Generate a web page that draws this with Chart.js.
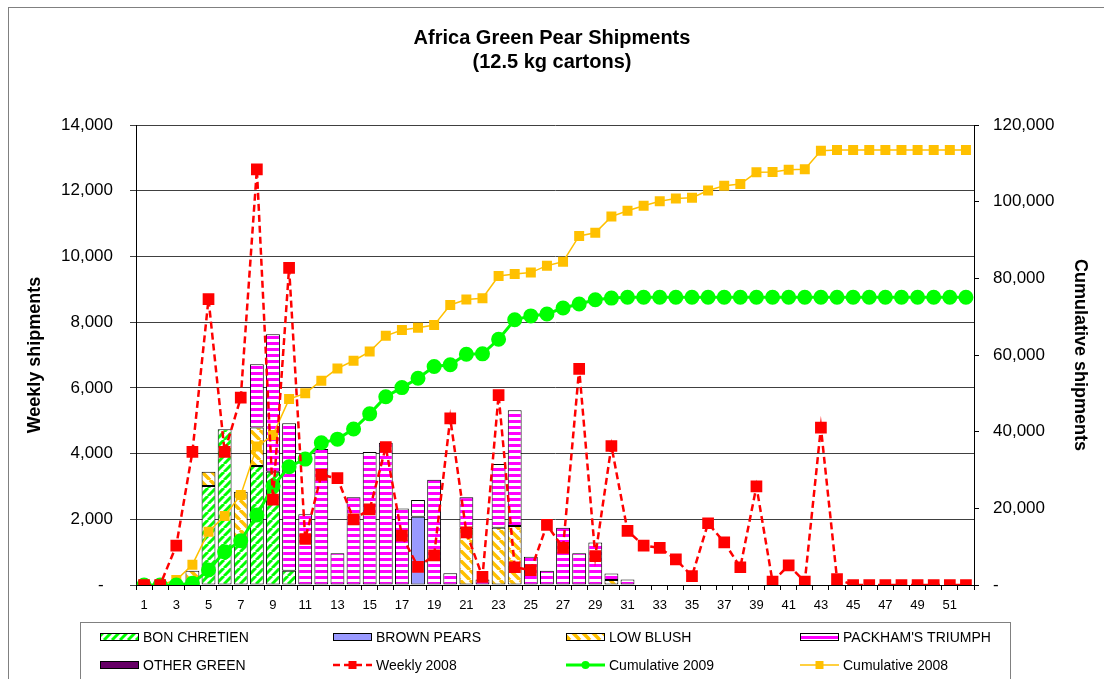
<!DOCTYPE html>
<html>
<head>
<meta charset="utf-8">
<title>Africa Green Pear Shipments</title>
<script src="https://cdn.jsdelivr.net/npm/chart.js@4/dist/chart.umd.min.js"></script>
<style>
  html, body { margin: 0; padding: 0; background: #fff; }
  canvas { display: block; }
</style>
</head>
<body>
<canvas id="pears" width="1104" height="679"></canvas>
<script>
// ----------------------------------------------------
// Data (cartons of 12.5 kg, by week)
// ----------------------------------------------------
const weeks = [1, 2, 3, 4, 5, 6, 7, 8, 9, 10, 11, 12, 13, 14, 15, 16, 17, 18, 19, 20,
  21, 22, 23, 24, 25, 26, 27, 28, 29, 30, 31, 32, 33, 34, 35, 36, 37, 38, 39, 40,
  41, 42, 43, 44, 45, 46, 47, 48, 49, 50, 51, 52];

const bonChretien = [0, 0, 0, 0, 3010, 4740, 1270, 3620, 3450, 435, 0, 0, 0, 0, 0, 0, 0, 0, 0, 0,
  0, 0, 0, 0, 0, 0, 0, 0, 0, 0, 0, 0, 0, 0, 0, 0, 0, 0, 0, 0,
  0, 0, 0, 0, 0, 0, 0, 0, 0, 0, 0, 0];
const brownPears = [0, 0, 0, 0, 0, 0, 0, 0, 0, 0, 0, 0, 0, 0, 0, 0, 0, 2080, 0, 0,
  0, 0, 0, 0, 0, 0, 0, 0, 0, 0, 0, 0, 0, 0, 0, 0, 0, 0, 0, 0,
  0, 0, 0, 0, 0, 0, 0, 0, 0, 0, 0, 0];
const lowBlush = [0, 0, 0, 435, 440, 0, 1570, 1170, 0, 0, 0, 0, 0, 0, 0, 0, 0, 0, 0, 0,
  1745, 0, 1745, 1795, 0, 0, 0, 0, 0, 150, 0, 0, 0, 0, 0, 0, 0, 0, 0, 0,
  0, 0, 0, 0, 0, 0, 0, 0, 0, 0, 0, 0];
const packham = [0, 0, 0, 0, 0, 0, 0, 1930, 4180, 4485, 2150, 4140, 965, 2670, 4050, 4330, 2330, 510, 3200, 355,
  925, 170, 1935, 3525, 860, 435, 1740, 965, 1290, 200, 170, 0, 0, 0, 0, 0, 0, 0, 0, 0,
  0, 0, 0, 0, 0, 0, 0, 0, 0, 0, 0, 0];
const otherGreen = [0, 0, 0, 0, 0, 0, 0, 0, 0, 0, 0, 0, 0, 0, 0, 0, 0, 0, 0, 0,
  0, 0, 0, 0, 0, 0, 0, 0, 0, 0, 0, 0, 0, 0, 0, 0, 0, 0, 0, 0,
  0, 0, 0, 0, 0, 0, 0, 0, 0, 0, 0, 0];

const weekly2008 = [0, 0, 1200, 4050, 8700, 4050, 5700, 12650, 2600, 9650, 1400, 3350, 3250, 2000, 2300, 4200, 1500, 550, 900, 5070,
  1600, 250, 5780, 540, 450, 1830, 1130, 6580, 880, 4230, 1650, 1200, 1130, 780, 270, 1880, 1300, 540, 3000, 100,
  600, 100, 4790, 180, 0, 0, 0, 0, 0, 0, 0, 0];
const cumul2009 = [0, 0, 0, 450, 3900, 8650, 11550, 18250, 25800, 30850, 32850, 37100, 38050, 40700, 44650, 49100, 51500, 53950, 57000, 57450,
  60200, 60300, 64100, 69200, 70200, 70700, 72250, 73300, 74400, 74850, 75050, 75050, 75050, 75050, 75050, 75050, 75050, 75050, 75050, 75050,
  75050, 75050, 75050, 75050, 75050, 75050, 75050, 75050, 75050, 75050, 75050, 75050];
const cumul2008 = [0, 0, 1300, 5300, 13900, 18000, 23500, 36100, 39100, 48500, 50000, 53300, 56500, 58500, 60900, 65000, 66500, 67100, 67800, 73050,
  74500, 74800, 80600, 81100, 81500, 83300, 84350, 91050, 91900, 96100, 97650, 98950, 100100, 100800, 101050, 102900, 104150, 104600, 107650, 107750,
  108350, 108450, 113300, 113450, 113450, 113450, 113450, 113450, 113450, 113450, 113450, 113450];

const weeklyTicks = [0, 2000, 4000, 6000, 8000, 10000, 12000, 14000];
const cumulTicks = [0, 20000, 40000, 60000, 80000, 100000, 120000];

// ----------------------------------------------------
// Fill patterns (Excel style hatching)
// ----------------------------------------------------
function makePattern(w, h, draw) {
  const c = document.createElement("canvas");
  c.width = w;
  c.height = h;
  const g = c.getContext("2d");
  g.fillStyle = "#fff";
  g.fillRect(0, 0, w, h);
  draw(g, w, h);
  return g.createPattern(c, "repeat");
}

const greenHatch = makePattern(8, 8, (g, s) => {
  g.strokeStyle = "#00FF00";
  g.lineWidth = 3;
  [-s, 0, s].forEach(k => {
    g.beginPath(); g.moveTo(k, s); g.lineTo(k + s, 0); g.stroke();
  });
});

const yellowHatch = makePattern(10, 10, (g, s) => {
  g.strokeStyle = "#FFC000";
  g.lineWidth = 3.5;
  [-s, 0, s].forEach(k => {
    g.beginPath(); g.moveTo(k, 0); g.lineTo(k + s, s); g.stroke();
  });
});

const pinkStripes = makePattern(4, 6, g => {
  g.fillStyle = "#FF00FF";
  g.fillRect(0, 0, 4, 3);
});

const fmt = v => (v === 0 ? "-  " : v.toLocaleString("en-US"));

// ----------------------------------------------------
// Plugins : frame + legend box under the chart
// ----------------------------------------------------
const framePlugin = {
  id: "frame",
  beforeDraw(chart) {
    const ctx = chart.ctx;
    ctx.save();
    ctx.fillStyle = "#fff";
    ctx.fillRect(0, 0, chart.width, chart.height);
    ctx.strokeStyle = "#808080";
    ctx.lineWidth = 1;
    ctx.strokeRect(8.5, 7.5, 1300, 900);
    ctx.restore();
  }
};

const legendPlugin = {
  id: "boxLegend",
  afterDraw(chart) {
    const ctx = chart.ctx;
    const cols = [100, 333, 566, 800];
    const rows = [637, 665];
    ctx.save();
    ctx.strokeStyle = "#808080";
    ctx.lineWidth = 1;
    ctx.strokeRect(80.5, 622.5, 930, 100);

    chart.data.datasets.forEach((ds, i) => {
      const x = cols[i % 4];
      const y = rows[Math.floor(i / 4)];
      if (ds.type === "line") {
        ctx.strokeStyle = ds.borderColor;
        ctx.lineWidth = ds.borderWidth;
        ctx.setLineDash(ds.borderDash || []);
        ctx.beginPath(); ctx.moveTo(x, y); ctx.lineTo(x + 39, y); ctx.stroke();
        ctx.setLineDash([]);
        ctx.fillStyle = ds.pointBackgroundColor;
        ctx.beginPath();
        if (ds.pointStyle === "circle") ctx.arc(x + 19.5, y, 4, 0, Math.PI * 2);
        else ctx.rect(x + 15.5, y - 4, 8, 8);
        ctx.fill();
      } else {
        ctx.fillStyle = ds.backgroundColor;
        ctx.fillRect(x, y - 4, 38, 8);
        ctx.strokeStyle = "#000";
        ctx.lineWidth = 1;
        ctx.strokeRect(x + 0.5, y - 3.5, 38, 7);
      }
      ctx.fillStyle = "#000";
      ctx.font = "14px 'Liberation Sans', Arial, sans-serif";
      ctx.textBaseline = "middle";
      ctx.textAlign = "left";
      ctx.fillText(ds.label, x + 43, y + 1);
    });
    ctx.restore();
  }
};

// ----------------------------------------------------
// Chart
// ----------------------------------------------------
Chart.defaults.font.family = "'Liberation Sans', Arial, sans-serif";
Chart.defaults.color = "#000";

function barSet(label, data, fill) {
  return {
    type: "bar",
    label,
    // empty weeks are left out so no stray borders get drawn
    data: data.map(v => (v === 0 ? null : v)),
    backgroundColor: fill,
    borderColor: "#000",
    borderWidth: 1,
    borderSkipped: false,
    yAxisID: "y",
    stack: "v2009",
    order: 3,
    categoryPercentage: 1,
    barPercentage: 0.86
  };
}

new Chart(document.getElementById("pears"), {
  type: "bar",
  data: {
    labels: weeks,
    datasets: [
      barSet("BON CHRETIEN", bonChretien, greenHatch),
      barSet("BROWN PEARS", brownPears, "#9999FF"),
      barSet("LOW BLUSH", lowBlush, yellowHatch),
      barSet("PACKHAM'S TRIUMPH", packham, pinkStripes),
      barSet("OTHER GREEN", otherGreen, "#660066"),
      {
        type: "line",
        label: "Weekly 2008",
        data: weekly2008,
        yAxisID: "y",
        stack: "w2008",
        borderColor: "#FF0000",
        borderWidth: 2.5,
        borderDash: [7, 4],
        pointStyle: "rect",
        pointRadius: 6.5,
        pointBackgroundColor: "#FF0000",
        pointBorderColor: "#FF0000",
        tension: 0,
        order: 0
      },
      {
        type: "line",
        label: "Cumulative 2009",
        data: cumul2009,
        yAxisID: "y1",
        borderColor: "#00FF00",
        borderWidth: 3,
        pointStyle: "circle",
        pointRadius: 6,
        pointBackgroundColor: "#00FF00",
        pointBorderColor: "#00FF00",
        tension: 0,
        order: 1
      },
      {
        type: "line",
        label: "Cumulative 2008",
        data: cumul2008,
        yAxisID: "y1",
        borderColor: "#FFC000",
        borderWidth: 1.5,
        pointStyle: "rect",
        pointRadius: 6,
        pointBackgroundColor: "#FFC000",
        pointBorderColor: "#FFC000",
        tension: 0,
        order: 2
      }
    ]
  },
  options: {
    responsive: false,
    animation: false,
    layout: { padding: 0 },
    plugins: {
      legend: { display: false },
      tooltip: { enabled: false },
      title: {
        display: true,
        text: ["Africa Green Pear Shipments", "(12.5 kg cartons)"],
        font: { size: 20, weight: "bold", lineHeight: 1.2 },
        padding: { top: 26, bottom: 51 }
      }
    },
    scales: {
      x: {
        stacked: true,
        grid: { drawOnChartArea: false, drawTicks: true, tickLength: 5, color: "#000", offset: true },
        border: { color: "#000" },
        ticks: {
          autoSkip: false,
          maxRotation: 0,
          padding: 8,
          font: { size: 13 },
          callback: (v, i) => (i % 2 === 0 ? weeks[i] : "")
        },
        afterFit: s => { s.height = 94; }
      },
      y: {
        stacked: true,
        position: "left",
        min: weeklyTicks[0],
        max: weeklyTicks[weeklyTicks.length - 1],
        afterBuildTicks: s => { s.ticks = weeklyTicks.map(v => ({ value: v })); },
        grid: { color: "#404040", tickLength: 6 },
        border: { color: "#000" },
        ticks: { padding: 17, font: { size: 17 }, callback: fmt },
        title: {
          display: true,
          text: "Weekly shipments",
          font: { size: 18, weight: "bold" },
          padding: { top: 24 }
        },
        afterFit: s => { s.width = 136; }
      },
      y1: {
        position: "right",
        min: cumulTicks[0],
        max: cumulTicks[cumulTicks.length - 1],
        afterBuildTicks: s => { s.ticks = cumulTicks.map(v => ({ value: v })); },
        grid: { drawOnChartArea: false, tickLength: 5, color: "#000" },
        border: { color: "#000" },
        ticks: { padding: 14, font: { size: 17 }, callback: fmt },
        title: {
          display: true,
          text: "Cumulative shipments",
          font: { size: 18, weight: "bold" },
          padding: { top: 13 }
        },
        afterFit: s => { s.width = 130; }
      }
    }
  },
  plugins: [framePlugin, legendPlugin]
});
</script>
</body>
</html>
